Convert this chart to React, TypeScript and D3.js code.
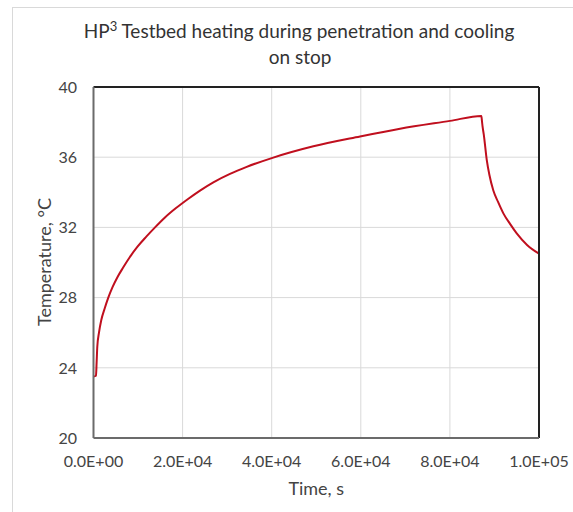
import React from "react";
import * as d3 from "d3";

const timeValues = [0, 560, 700, 850, 1230, 1750, 2470, 3320, 4270, 5340, 6620, 8130, 9880, 11850, 13810, 15980, 18520, 21220, 23910, 26900, 30640, 34390, 40010, 49350, 59830, 68810, 80030, 87060, 87200, 87330, 87600, 88270, 88860, 89750, 90810, 92000, 93500, 95000, 97320, 100000];
const tempValues = [23.5, 23.55, 24.3, 25.2, 26.0, 26.72, 27.35, 28.0, 28.6, 29.15, 29.7, 30.3, 30.9, 31.47, 32.0, 32.55, 33.1, 33.62, 34.1, 34.57, 35.05, 35.45, 35.95, 36.62, 37.18, 37.62, 38.07, 38.35, 38.05, 37.75, 37.3, 35.85, 35.0, 34.1, 33.45, 32.8, 32.2, 31.66, 31.0, 30.5];
const xTicks = [0, 20000, 40000, 60000, 80000, 100000];
const xTickLabels = ["0.0E+00", "2.0E+04", "4.0E+04", "6.0E+04", "8.0E+04", "1.0E+05"];
const yTicks = [20, 24, 28, 32, 36, 40];

const W = 573, H = 512;
const L = 93.5, R = 539, T = 87, B = 438;
const FONT = "Lato, 'Open Sans', sans-serif";

export default function App() {
  const x = d3.scaleLinear().domain([0, 100000]).range([L, R]);
  const y = d3.scaleLinear().domain([20, 40]).range([B, T]);
  const pts = timeValues.map((t, i) => [t, tempValues[i]] as [number, number]);
  const line = d3.line<[number, number]>().x(d => x(d[0])).y(d => y(d[1])).curve(d3.curveMonotoneX);
  const cx = (L + R) / 2;
  return (
    <svg width={W} height={H} style={{ position: "absolute", left: 0, top: 0, background: "#fff" }}>
      <rect x={12.5} y={7.5} width={W} height={H} fill="#fff" stroke="#d9d9d9" strokeWidth={1} />
      <text x={299} y={38} textAnchor="middle" fontFamily={FONT} fontSize={19} fill="#333">
        HP<tspan fontSize={13} dy={-7}>3</tspan><tspan dy={7}> Testbed heating during penetration and cooling</tspan>
      </text>
      <text x={300} y={64} textAnchor="middle" fontFamily={FONT} fontSize={19} fill="#333">on stop</text>
      {xTicks.slice(1, -1).map(t => (
        <line key={"gx" + t} x1={x(t)} x2={x(t)} y1={T} y2={B} stroke="#d9d9d9" strokeWidth={1} />
      ))}
      {yTicks.slice(1, -1).map(v => (
        <line key={"gy" + v} x1={L} x2={R} y1={y(v)} y2={y(v)} stroke="#d9d9d9" strokeWidth={1} />
      ))}
      <path d={line(pts) || ""} fill="none" stroke="#c00f1e" strokeWidth={2} strokeLinejoin="round" />
      <line x1={L} x2={R} y1={T} y2={T} stroke="#222" strokeWidth={2} />
      <line x1={R} x2={R} y1={T} y2={B} stroke="#222" strokeWidth={2} />
      <line x1={L} x2={L} y1={T} y2={B} stroke="#6b6b6b" strokeWidth={2} />
      <line x1={L} x2={R} y1={B} y2={B} stroke="#6b6b6b" strokeWidth={2} />
      {yTicks.map(v => (
        <text key={"yt" + v} x={77} y={y(v) + 5.8} textAnchor="end" fontFamily={FONT} fontSize={16} fill="#444">{v}</text>
      ))}
      {xTicks.map((t, i) => (
        <text key={"xt" + t} x={x(t)} y={467} textAnchor="middle" fontFamily={FONT} fontSize={16} fill="#444">{xTickLabels[i]}</text>
      ))}
      <text x={cx} y={495} textAnchor="middle" fontFamily={FONT} fontSize={18} fill="#444">Time, s</text>
      <text transform={`translate(51,262) rotate(-90)`} textAnchor="middle" fontFamily={FONT} fontSize={18} fill="#444">Temperature, °C</text>
    </svg>
  );
}
